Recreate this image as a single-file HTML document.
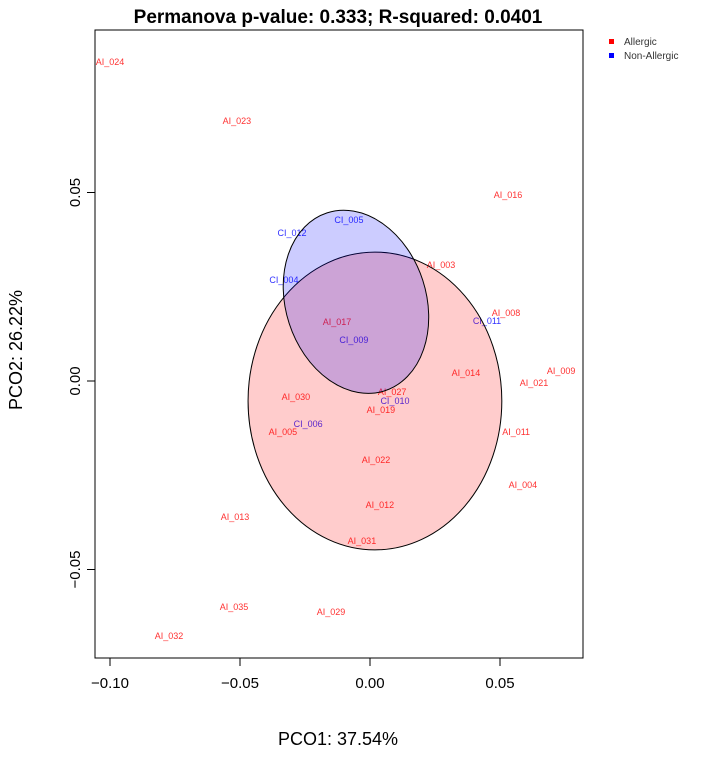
<!DOCTYPE html>
<html><head><meta charset="utf-8"><style>
body{margin:0;background:#fff;}
svg text{font-family:"Liberation Sans",Arial,sans-serif;}
</style></head><body>
<svg width="703" height="752" xmlns="http://www.w3.org/2000/svg">
<text x="338" y="23" text-anchor="middle" font-size="19" font-weight="bold">Permanova p-value: 0.333; R-squared: 0.0401</text>
<g id="plot"></g>
<rect x="95" y="30" width="488" height="628" fill="none" stroke="#000" stroke-width="1"/>
<g id="axes"></g>
<text x="338" y="745" text-anchor="middle" font-size="18">PCO1: 37.54%</text>
<text transform="translate(22,350) rotate(-90)" text-anchor="middle" font-size="18">PCO2: 26.22%</text>
<g>
<rect x="609" y="39" width="5" height="5" fill="#ff0000"/>
<text x="624" y="45" font-size="10" fill="#333">Allergic</text>
<rect x="609" y="53" width="5" height="5" fill="#0000ff"/>
<text x="624" y="59" font-size="10" fill="#333">Non-Allergic</text>
</g>
</svg>
<script>
const sampleNames=["AI_024","AI_023","AI_016","CI_005","CI_012","AI_003","CI_004","AI_008","CI_011","AI_017","CI_009","AI_009","AI_014","AI_021","AI_027","AI_030","CI_010","AI_019","CI_006","AI_005","AI_011","AI_022","AI_004","AI_012","AI_013","AI_031","AI_035","AI_029","AI_032"];
const pco1=[-0.1,-0.0512,0.0531,-0.0081,-0.0300,0.0273,-0.0331,0.0523,0.0450,-0.0127,-0.0062,0.0735,0.0369,0.0631,0.0085,-0.0285,0.0096,0.0042,-0.0238,-0.0335,0.0562,0.0023,0.0588,0.0038,-0.0519,-0.0031,-0.0523,-0.0150,-0.0773];
const pco2=[0.0846,0.0690,0.0494,0.0427,0.0393,0.0308,0.0268,0.0180,0.0159,0.0156,0.0109,0.0027,0.0021,-0.0005,-0.0029,-0.0042,-0.0053,-0.0077,-0.0114,-0.0135,-0.0135,-0.0210,-0.0276,-0.0329,-0.0361,-0.0424,-0.0599,-0.0613,-0.0676];
const xTicks=[-0.10,-0.05,0.00,0.05];
const xTickLabels=["\u22120.10","\u22120.05","0.00","0.05"];
const yTicks=[-0.05,0.00,0.05];
const yTickLabels=["\u22120.05","0.00","0.05"];
const groupNames=["Allergic","Non-Allergic"];
const ellipseCx=[0.0019,-0.0054];
const ellipseCy=[-0.0053,0.0210];
const ellipseRx=[0.0488,0.0270];
const ellipseRy=[0.0395,0.0248];
const ellipseAngle=[0,-18];
const NS="http://www.w3.org/2000/svg";
const X=v=>370+v*2600, Y=v=>381-v*3770;
const plot=document.getElementById('plot'), axes=document.getElementById('axes');
sampleNames.forEach((n,i)=>{
  const t=document.createElementNS(NS,'text');
  t.setAttribute('x',X(pco1[i]));t.setAttribute('y',Y(pco2[i])+3);
  t.setAttribute('text-anchor','middle');t.setAttribute('font-size','9');
  t.setAttribute('fill',n.startsWith('CI')?'#3333ff':'#ff3333');
  t.textContent=n;
  
  
  plot.appendChild(t);
});
groupNames.forEach((g,i)=>{
  const e=document.createElementNS(NS,'ellipse');
  const cx=X(ellipseCx[i]),cy=Y(ellipseCy[i]);
  e.setAttribute('cx',cx);e.setAttribute('cy',cy);
  e.setAttribute('rx',ellipseRx[i]*2600);e.setAttribute('ry',ellipseRy[i]*3770);
  e.setAttribute('transform','rotate('+ellipseAngle[i]+' '+cx+' '+cy+')');
  e.setAttribute('fill',i==0?'rgba(255,0,0,0.2)':'rgba(0,0,255,0.2)');
  e.setAttribute('stroke','#000');e.setAttribute('stroke-width','1');
  
  
  plot.appendChild(e);
});
xTicks.forEach((v,i)=>{
  const l=document.createElementNS(NS,'line');
  l.setAttribute('x1',X(v));l.setAttribute('x2',X(v));l.setAttribute('y1',658);l.setAttribute('y2',666);l.setAttribute('stroke','#000');
  
  
  axes.appendChild(l);
  const t=document.createElementNS(NS,'text');
  t.setAttribute('x',X(v));t.setAttribute('y',688);t.setAttribute('text-anchor','middle');t.setAttribute('font-size','15');
  t.textContent=xTickLabels[i];
  
  
  axes.appendChild(t);
});
const xl=document.createElementNS(NS,'line');
xl.setAttribute('x1',X(xTicks[0]));xl.setAttribute('x2',X(xTicks[xTicks.length-1]));xl.setAttribute('y1',658);xl.setAttribute('y2',658);xl.setAttribute('stroke','#000');


axes.appendChild(xl);
yTicks.forEach((v,i)=>{
  const l=document.createElementNS(NS,'line');
  l.setAttribute('x1',87);l.setAttribute('x2',95);l.setAttribute('y1',Y(v));l.setAttribute('y2',Y(v));l.setAttribute('stroke','#000');
  
  
  axes.appendChild(l);
  const t=document.createElementNS(NS,'text');
  t.setAttribute('transform','translate(80,'+Y(v)+') rotate(-90)');t.setAttribute('text-anchor','middle');t.setAttribute('font-size','15');
  t.textContent=yTickLabels[i];
  
  
  axes.appendChild(t);
});
</script>
</body></html>
